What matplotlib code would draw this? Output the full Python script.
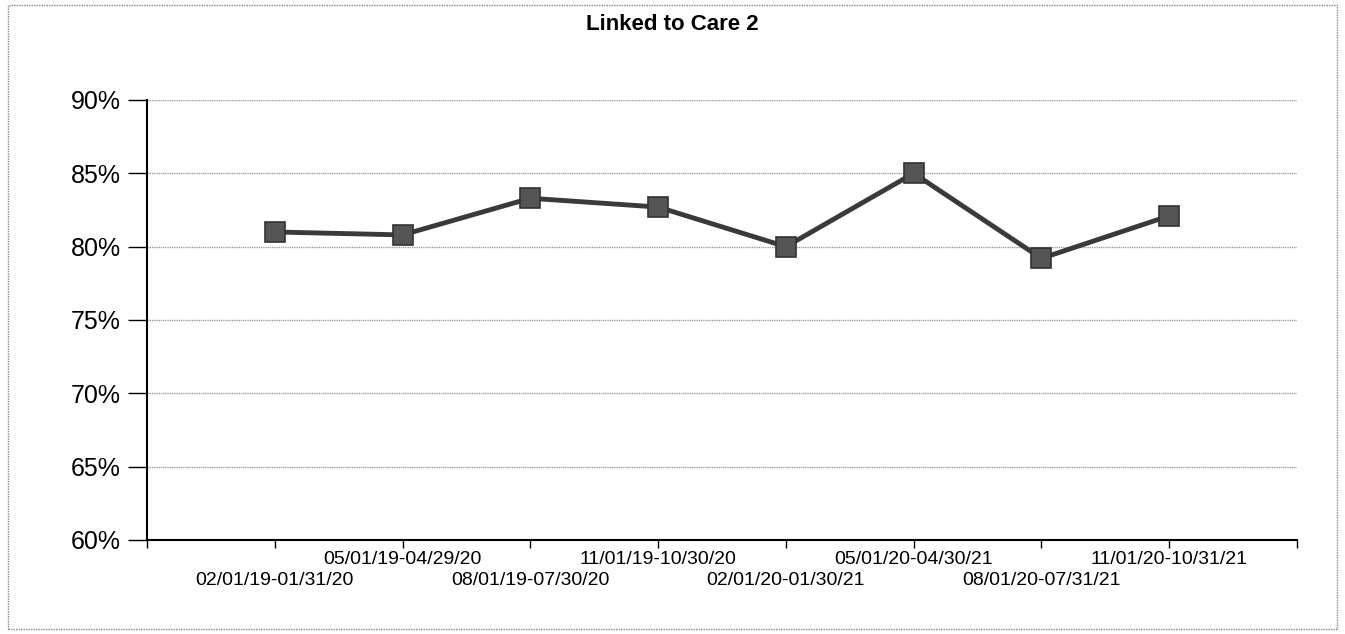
import matplotlib.pyplot as plt
from matplotlib.patches import Rectangle

periods = ["02/01/19-01/31/20", "05/01/19-04/29/20", "08/01/19-07/30/20",
           "11/01/19-10/30/20", "02/01/20-01/30/21", "05/01/20-04/30/21",
           "08/01/20-07/31/21", "11/01/20-10/31/21"]
linked = [81.0, 80.8, 83.3, 82.7, 80.0, 85.0, 79.2, 82.1]
y_ticks = [60, 65, 70, 75, 80, 85, 90]

plt.rcParams['font.family'] = ['Liberation Sans', 'DejaVu Sans']

fig = plt.figure(figsize=(13.45, 6.34), dpi=100)
ax = fig.add_axes([0.1093, 0.1483, 0.855, 0.694])

xs = list(range(1, len(periods) + 1))
ax.plot(xs, linked, color='#3a3a3a', linewidth=3.5, marker='s',
        markersize=15, markerfacecolor='#555555', markeredgecolor='#333333',
        markeredgewidth=1.2, zorder=3)

ax.set_xlim(0, len(periods) + 1)
ax.set_ylim(60, 90)
ax.set_yticks(y_ticks)
ax.set_yticklabels([f"{v}%" for v in y_ticks], fontsize=18)
ax.yaxis.grid(True, color='#a0a0a0', linewidth=1.0, linestyle=(0, (1, 0.6)))
ax.set_axisbelow(True)

ax.set_xticks(range(len(periods) + 2))
ax.set_xticklabels([""] + periods + [""], fontsize=14)

ax.tick_params(axis='y', length=14, width=1, direction='out', pad=5)
ax.tick_params(axis='x', length=6, width=1, direction='out', pad=2)

# labels alternate between two rows, as in the original
for i, tick in enumerate(ax.xaxis.get_major_ticks()):
    if i % 2 == 1:
        tick.set_pad(17)

for s in ['top', 'right']:
    ax.spines[s].set_visible(False)
ax.spines['left'].set_linewidth(1.5)
ax.spines['bottom'].set_linewidth(1.5)

fig.text(0.5, 0.978, "Linked to Care 2", ha='center', va='top',
         fontsize=16, fontweight='bold')

fig.patches.append(Rectangle((0.006, 0.008), 0.988, 0.984,
                             transform=fig.transFigure, fill=False,
                             edgecolor='#888888', linewidth=1.0,
                             linestyle=(0, (1, 0.8))))

fig.savefig("out.png", dpi=100)
